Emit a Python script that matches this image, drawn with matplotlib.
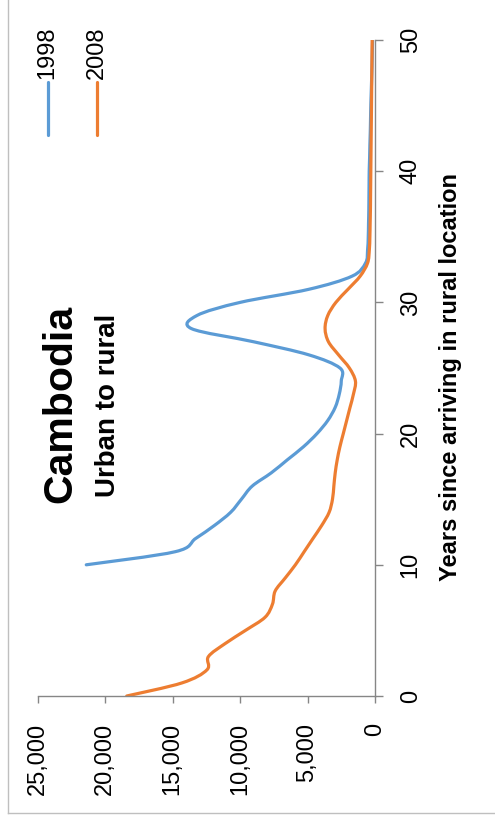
import numpy as np
import matplotlib
matplotlib.use("Agg")
import matplotlib.pyplot as plt
from matplotlib.path import Path
from matplotlib.patches import PathPatch
from matplotlib.lines import Line2D
from matplotlib.ticker import FuncFormatter

plt.rcParams["font.family"] = ["Liberation Sans", "DejaVu Sans"]

# migrants by years since arriving (urban to rural, Cambodia)
years_1998 = list(range(10, 51))
migrants_1998 = [21400, 14800, 13300, 11900, 10700, 9900, 9100, 7700, 6500, 5300,
                 4300, 3500, 2950, 2650, 2500, 2600, 4900, 9000, 13600, 13200,
                 10000, 4900, 1700, 700, 550, 500, 480, 460, 450, 440,
                 430, 400, 380, 350, 330, 310, 280, 250, 220, 200, 180]

years_2008 = list(range(0, 51))
migrants_2008 = [18400, 14300, 12450, 12350, 11100, 9600, 8150, 7600, 7400, 6650,
                 5900, 5250, 4600, 3950, 3400, 3150, 3050, 2950, 2800, 2600,
                 2350, 2100, 1850, 1600, 1450, 1900, 2700, 3450, 3700, 3500,
                 2900, 2000, 1100, 550, 420, 380, 360, 340, 330, 320,
                 310, 300, 290, 280, 270, 260, 250, 240, 230, 220, 210]

series_names = ["1998", "2008"]
colors = ["#5B9BD5", "#ED7D31"]
axis_grey = "#868686"

W, H = 495, 822


def px(x, y):
    # pixel position (from top-left) -> figure fraction
    return x / W, 1 - y / H


def smooth_path(xs, ys):
    # Excel-like smoothed line (Catmull-Rom as cubic Bezier)
    pts = np.column_stack([xs, ys]).astype(float)
    n = len(pts)
    verts = [pts[0]]
    codes = [Path.MOVETO]
    for i in range(n - 1):
        p0 = pts[i - 1] if i > 0 else pts[i]
        p1 = pts[i]
        p2 = pts[i + 1]
        p3 = pts[i + 2] if i + 2 < n else pts[i + 1]
        verts += [p1 + (p2 - p0) / 6, p2 - (p3 - p1) / 6, p2]
        codes += [Path.CURVE4] * 3
    return Path(verts, codes)


fig = plt.figure(figsize=(W / 100, H / 100), dpi=100)
x0, y0 = px(37.7, 696)
x1, y1 = px(375, 40)
ax = fig.add_axes([x0, y0, x1 - x0, y1 - y0])

for yrs, vals, c in [(years_1998, migrants_1998, colors[0]),
                     (years_2008, migrants_2008, colors[1])]:
    ax.add_patch(PathPatch(smooth_path(vals, yrs), fill=False, edgecolor=c,
                           lw=2.3, capstyle="round", joinstyle="round"))

ax.set_xlim(25000, 0)
ax.set_ylim(0, 50)
ax.set_xticks([0, 5000, 10000, 15000, 20000, 25000])
ax.set_yticks([0, 10, 20, 30, 40, 50])
ax.xaxis.set_major_formatter(FuncFormatter(lambda v, p: f"{v:,.0f}"))

for s in ["top", "left"]:
    ax.spines[s].set_visible(False)
for s in ["bottom", "right"]:
    ax.spines[s].set_color(axis_grey)
    ax.spines[s].set_linewidth(1.0)

ax.yaxis.tick_right()
ax.tick_params(axis="x", direction="out", length=5.2, width=1.0, color=axis_grey,
               pad=14, labelsize=17, labelrotation=90)
ax.tick_params(axis="y", direction="out", length=5.8, width=1.0, color=axis_grey,
               pad=12, labelsize=17, labelrotation=90)
for t in ax.yaxis.get_major_ticks():
    t.label2.set_va("center")

# axis title on the right
fx, fy = px(450, 377)
fig.text(fx, fy, "Years since arriving in rural location", rotation=90,
         ha="center", va="center", fontsize=17, fontweight="bold")

# chart title
fx, fy = px(41, 404)
fig.text(fx, fy, "Cambodia", rotation=90, ha="left", va="center",
         fontsize=29.5, fontweight="bold")
fx, fy = px(95, 405)
fig.text(fx, fy, "Urban to rural", rotation=90, ha="left", va="center",
         fontsize=20, fontweight="bold")

# legend (rotated)
for name, c, lx in zip(series_names, colors, [48, 97]):
    a, b = px(lx, 82)
    _, d = px(lx, 135)
    fig.add_artist(Line2D([a, a], [b, d], color=c, lw=2.3,
                          solid_capstyle="round", transform=fig.transFigure))
    tx, ty = px(lx - 0.5, 79)
    fig.text(tx, ty, name, rotation=90, ha="center", va="bottom", fontsize=17)

# outer chart border (left and bottom visible)
bx0, by0 = px(8.3, 812.7)
fig.add_artist(Line2D([bx0, bx0], [by0, 1.0], color="#BFBFBF", lw=1.0,
                      transform=fig.transFigure))
fig.add_artist(Line2D([bx0, 1.0], [by0, by0], color="#BFBFBF", lw=1.0,
                      transform=fig.transFigure))

fig.savefig("out.png", dpi=100)
